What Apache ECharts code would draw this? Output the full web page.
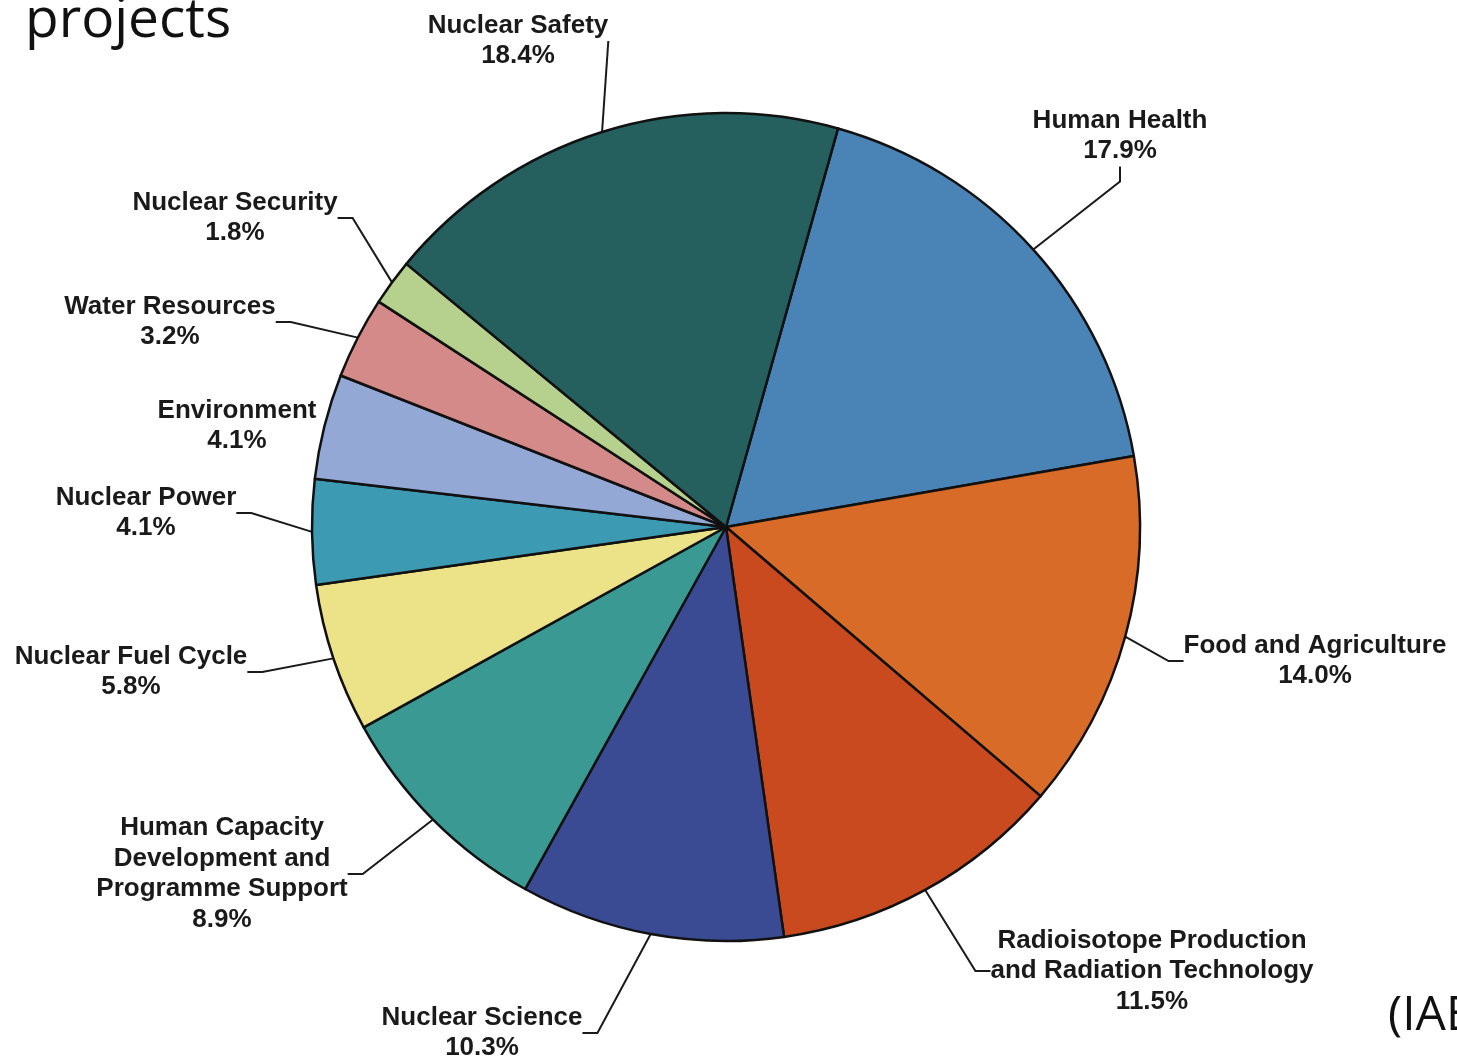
<!DOCTYPE html>
<html>
<head>
<meta charset="utf-8">
<script src="https://cdn.jsdelivr.net/npm/echarts@6/dist/echarts.min.js"></script>
<style>
  html, body { margin: 0; padding: 0; background: #ffffff; }
  #chart { width: 1457px; height: 1059px; }
</style>
</head>
<body>
<div id="chart"></div>
<script>
// ---- data ----
const categories = [
  'Human Health',
  'Food and Agriculture',
  'Radioisotope Production\nand Radiation Technology',
  'Nuclear Science',
  'Human Capacity\nDevelopment and\nProgramme Support',
  'Nuclear Fuel Cycle',
  'Nuclear Power',
  'Environment',
  'Water Resources',
  'Nuclear Security',
  'Nuclear Safety'
];
const shares = [17.9, 14.0, 11.5, 10.3, 8.9, 5.8, 4.1, 4.1, 3.2, 1.8, 18.4];
const sliceColors = ['#4a84b6', '#d86b27', '#c94a1e', '#3a4b93', '#3a9a93', '#ece287',
                     '#3d9ab3', '#93a8d5', '#d48a89', '#b6d18e', '#255f5e'];
// label centre positions (layout only)
const labelCenters = [[1120, 136], [1315, 661], [1152, 971], [482, 1033], [222, 874],
                      [131, 672], [146, 513], [237, 426], [170, 322], [235, 218], [518, 41]];
const noLeader = ['Environment'];

const chart = echarts.init(document.getElementById('chart'), null, { renderer: 'canvas' });

const option = {
  backgroundColor: '#ffffff',
  animation: false,
  graphic: [
    {
      type: 'text', left: 25, top: -6,
      style: { text: 'projects', font: '55px "Open Sans"', fill: '#111' },
      z: 10
    },
    {
      type: 'text', left: 1388, top: 992,
      style: { text: '(IAEA)', font: '48px "Open Sans"', fill: '#111' },
      z: 10
    }
  ],
  series: [{
    type: 'pie',
    center: [726, 527],
    radius: [0, 414],
    startAngle: 74.3,
    clockwise: true,
    avoidLabelOverlap: false,
    itemStyle: { borderColor: '#111', borderWidth: 2.5 },
    label: {
      show: true,
      color: '#1a1a1a',
      fontFamily: '"Liberation Sans", Arial, sans-serif',
      fontWeight: 'bold',
      fontSize: 26,
      lineHeight: 30.5,
      align: 'center',
      formatter: p => p.name + '\n' + p.value.toFixed(1) + '%'
    },
    labelLine: {
      show: true, length: 15, length2: 15,
      lineStyle: { color: '#1a1a1a', width: 2 }
    },
    labelLayout: function (params) {
      const c = labelCenters[params.dataIndex];
      return { x: c[0], y: c[1], align: 'center', verticalAlign: 'middle' };
    },
    emphasis: { disabled: true },
    data: categories.map((name, i) => ({
      name: name,
      value: shares[i],
      itemStyle: { color: sliceColors[i] },
      labelLine: { show: noLeader.indexOf(name) < 0 }
    }))
  }]
};
chart.setOption(option);
</script>
</body>
</html>
